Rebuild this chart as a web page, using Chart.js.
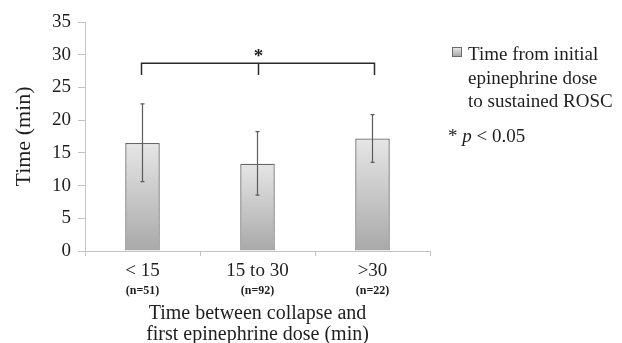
<!DOCTYPE html>
<html>
<head>
<meta charset="utf-8">
<script src="https://cdn.jsdelivr.net/npm/chart.js@4.4.1/dist/chart.umd.min.js"></script>
<style>
  html, body { margin: 0; padding: 0; background: #fff; overflow: hidden; }
  #wrap { position: relative; width: 622px; height: 350px; }
</style>
</head>
<body>
<div id="wrap"><canvas id="myChart" width="622" height="350"></canvas></div>
<script>
"use strict";

// data
const categories = ["< 15", "15 to 30", ">30"];
const sampleSizes = ["(n=51)", "(n=92)", "(n=22)"];
const meanTimes = [16.5, 13.35, 17.2];
const errorUpper = [22.5, 18.25, 20.85];
const errorLower = [10.6, 8.55, 13.55];
const yTicks = [0, 5, 10, 15, 20, 25, 30, 35];

const seriesLabel = ["Time from initial", "epinephrine dose", "to sustained ROSC"];
const yTitle = "Time (min)";
const xTitle = ["Time between collapse and", "first epinephrine dose (min)"];
const bracketTop = 28.7;
const bracketFoot = 26.9;
const starLevel = 30.3;

const SERIF = "'Liberation Serif', 'Times New Roman', serif";
const TEXT = "#1e1e1e";

function barGradient(ctx, top, bottom) {
  const g = ctx.createLinearGradient(0, top, 0, bottom);
  g.addColorStop(0, "#e6e6e6");
  g.addColorStop(1, "#a9a9a9");
  return g;
}

const extrasPlugin = {
  id: "extras",
  afterDatasetsDraw(chart) {
    const ctx = chart.ctx;
    const y = chart.scales.y;
    const bars = chart.getDatasetMeta(0).data;

    // error bars
    ctx.save();
    ctx.strokeStyle = "#5c5c5c";
    ctx.lineWidth = 1.2;
    bars.forEach((bar, i) => {
      const top = y.getPixelForValue(errorUpper[i]);
      const bot = y.getPixelForValue(errorLower[i]);
      ctx.beginPath();
      ctx.moveTo(bar.x, top);
      ctx.lineTo(bar.x, bot);
      ctx.moveTo(bar.x - 2, top);
      ctx.lineTo(bar.x + 2, top);
      ctx.moveTo(bar.x - 2, bot);
      ctx.lineTo(bar.x + 2, bot);
      ctx.stroke();
    });

    // significance bracket
    const yt = y.getPixelForValue(bracketTop);
    const yf = y.getPixelForValue(bracketFoot);
    const x0 = bars[0].x - 1, x1 = bars[2].x + 2, xm = bars[1].x + 1;
    ctx.strokeStyle = "#2a2a2a";
    ctx.lineWidth = 1.5;
    ctx.beginPath();
    ctx.moveTo(x0, yf);
    ctx.lineTo(x0, yt);
    ctx.lineTo(x1, yt);
    ctx.lineTo(x1, yf);
    ctx.moveTo(xm, yt);
    ctx.lineTo(xm, yf);
    ctx.stroke();

    ctx.fillStyle = TEXT;
    ctx.font = "bold 19px " + SERIF;
    ctx.textAlign = "center";
    ctx.textBaseline = "middle";
    ctx.fillText("*", xm, y.getPixelForValue(starLevel) + 4);

    // sample sizes under the category labels
    ctx.font = "bold 12px " + SERIF;
    bars.forEach((bar, i) => {
      ctx.fillText(sampleSizes[i], bar.x, 291);
    });

    // legend
    ctx.fillStyle = barGradient(ctx, 48, 56);
    ctx.fillRect(453, 48, 8, 8);
    ctx.strokeStyle = "#6a6a6a";
    ctx.lineWidth = 1;
    ctx.strokeRect(452.5, 47.5, 9, 9);

    ctx.fillStyle = TEXT;
    ctx.font = "19px " + SERIF;
    ctx.textAlign = "left";
    ctx.textBaseline = "alphabetic";
    seriesLabel.forEach((line, i) => {
      ctx.fillText(line, 468, 60 + i * 23.5);
    });

    let x = 448;
    ctx.fillText("* ", x, 142);
    x += ctx.measureText("* ").width;
    ctx.font = "italic 19px " + SERIF;
    ctx.fillText("p", x, 142);
    x += ctx.measureText("p").width;
    ctx.font = "19px " + SERIF;
    ctx.fillText(" < 0.05", x, 142);
    ctx.restore();
  }
};

const ctx = document.getElementById("myChart").getContext("2d");

new Chart(ctx, {
  type: "bar",
  data: {
    labels: categories,
    datasets: [{
      label: seriesLabel.join(" "),
      data: meanTimes,
      backgroundColor: (c) => {
        const chart = c.chart;
        if (!chart.chartArea || c.parsed === undefined) return "#cccccc";
        const ys = chart.scales.y;
        return barGradient(chart.ctx, ys.getPixelForValue(c.parsed.y), ys.getPixelForValue(0));
      },
      borderColor: "#666666",
      borderWidth: 1.3,
      barPercentage: 0.3,
      categoryPercentage: 1
    }]
  },
  options: {
    responsive: false,
    animation: false,
    layout: { padding: { top: 22, right: 192, left: 0, bottom: 0 } },
    plugins: {
      legend: { display: false },
      tooltip: { enabled: false }
    },
    scales: {
      y: {
        min: 0,
        max: 35,
        afterFit: (s) => { s.width = 85; },
        afterBuildTicks: (s) => { s.ticks = yTicks.map((v) => ({ value: v })); },
        border: { color: "#c4c4c4" },
        grid: { drawOnChartArea: false, color: "#c4c4c4", tickLength: 7 },
        ticks: {
          color: TEXT,
          padding: 7,
          font: { family: SERIF, size: 19 }
        },
        title: {
          display: true,
          text: yTitle,
          color: TEXT,
          font: { family: SERIF, size: 22 },
          padding: { top: 11, bottom: 0 }
        }
      },
      x: {
        afterFit: (s) => { s.height = 99; },
        border: { color: "#c4c4c4" },
        grid: { drawOnChartArea: false, color: "#c4c4c4", tickLength: 5, offset: true },
        ticks: {
          color: TEXT,
          padding: 4,
          maxRotation: 0,
          font: { family: SERIF, size: 19 }
        },
        title: {
          display: true,
          text: xTitle,
          color: TEXT,
          font: { family: SERIF, size: 20, lineHeight: 1.05 },
          padding: { top: 0, bottom: 5 }
        }
      }
    }
  },
  plugins: [extrasPlugin]
});
</script>
</body>
</html>
